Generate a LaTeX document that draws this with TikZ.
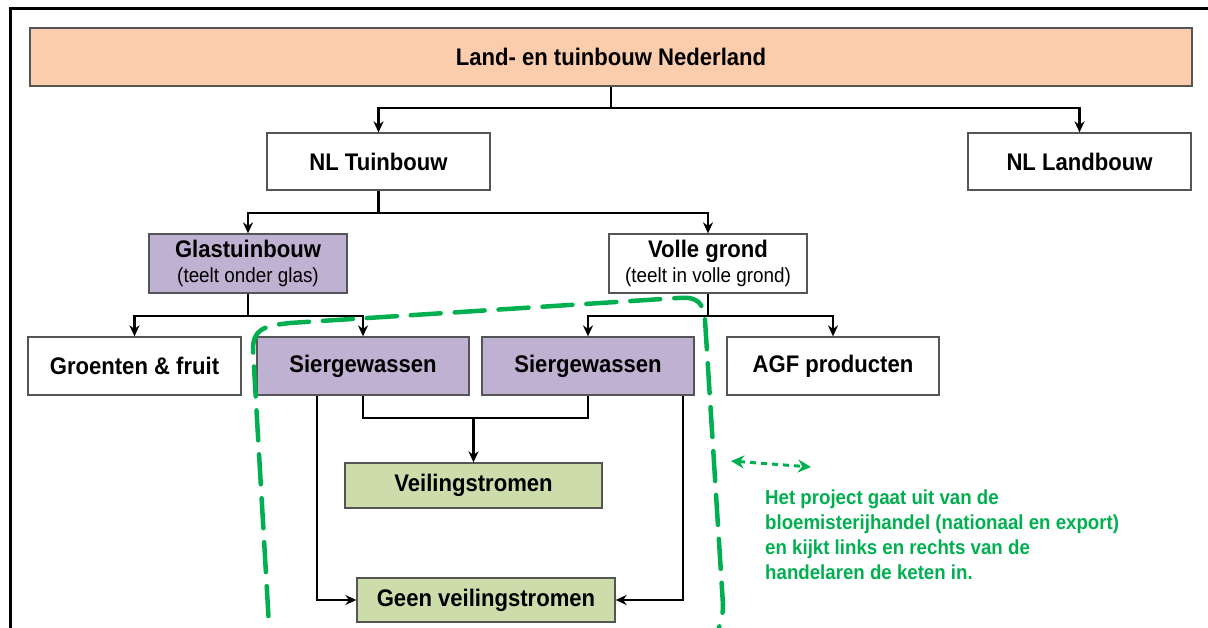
\documentclass[tikz,border=0pt]{standalone}
\usepackage{fontspec}
\setmainfont{Liberation Sans}[FakeStretch=0.92]
\usetikzlibrary{arrows.meta,calc}
\definecolor{peach}{HTML}{FCCDAC}
\definecolor{lilac}{HTML}{BFB1D1}
\definecolor{sage}{HTML}{CCDCAA}
\definecolor{notegreen}{HTML}{00B050}
\definecolor{edge}{HTML}{555555}
\newcommand\subfont{\fontsize{20.5}{24}\selectfont\mdseries}
\begin{document}
\begin{tikzpicture}[x=1pt,y=-1pt,
  box/.style={draw=edge, line width=1.3pt, minimum height=58pt, inner sep=0pt,
    font=\fontsize{24}{25}\selectfont\bfseries, align=center},
  conn/.style={line width=2.2pt, -{Stealth[length=11pt,width=10pt]}},
  link/.style={line width=2.2pt},
  scope/.style={draw=notegreen, line width=4.5pt, dash pattern=on 30pt off 14pt, line cap=round},
  remark/.style={font=\fontsize{20.3}{25}\selectfont\bfseries, text=notegreen, align=left, inner sep=0pt}
]
\useasboundingbox (0,0) rectangle (1208,628);
\clip (0,0) rectangle (1208,628);

% outer frame
\draw[line width=3pt] (10,660) -- (10,9) -- (1230,9);

% boxes
\node[box, fill=peach, minimum width=1162pt] (top) at (611,57) {Land- en tuinbouw Nederland};
\node[box, fill=white, minimum width=223pt, minimum height=57pt] (tuin) at (378.5,161.5) {NL Tuinbouw};
\node[box, fill=white, minimum width=223pt, minimum height=57pt] (land) at (1079.5,161.5) {NL Landbouw};
\node[box, fill=lilac, minimum width=198pt, minimum height=59pt] (glas) at (248,263.5)
  {Glastuinbouw\\{\subfont (teelt onder glas)}};
\node[box, fill=white, minimum width=198pt, minimum height=59pt] (volle) at (708,263.5)
  {Volle grond\\{\subfont (teelt in volle grond)}};
\node[box, fill=white, minimum width=213pt] (groente) at (134.5,366) {Groenten \& fruit};
\node[box, fill=lilac, minimum width=212pt] (sier1) at (363,366) {Siergewassen};
\node[box, fill=lilac, minimum width=212pt] (sier2) at (588,366) {Siergewassen};
\node[box, fill=white, minimum width=212pt] (agf) at (833,366) {AGF producten};
\node[box, fill=sage, minimum width=257pt, minimum height=45pt] (veil) at (473.5,485.5) {Veilingstromen};
\node[box, fill=sage, minimum width=258pt, minimum height=44pt] (geen) at (486,600) {Geen veilingstromen};

% tree connectors
\draw[conn] (top.south) -- ++(0,21) -| (tuin.north);
\draw[conn] (top.south) ++(0,21) -| (land.north);
\draw[conn] (tuin.south) -- ++(0,22) -| (glas.north);
\draw[conn] (tuin.south) ++(0,22) -| (volle.north);
\draw[conn] (glas.south) -- ++(0,22) -| (groente.north);
\draw[conn] (glas.south) ++(0,22) -| (sier1.north);
\draw[conn] (volle.south) -- ++(0,22) -| (sier2.north);
\draw[conn] (volle.south) ++(0,22) -| (agf.north);

% flows out of the ornamental crops
\draw[link] (sier1.south) -- ++(0,22) -| (sier2.south);
\coordinate (join) at ($(sier1.south)!0.5!(sier2.south)+(0,22)$);
\draw[conn] (veil.north |- join) -- (veil.north);
\draw[conn] ($(sier1.south)+(-46,0)$) |- (geen.west);
\draw[conn] ($(sier2.south)+(95,0)$) |- (geen.east);

% project scope outline
\draw[scope] (271,660) -- (253,350) .. controls (253,330) and (262,326) .. (290,323)
  -- (678,298) .. controls (700,296) and (703,305) .. (705,320)
  -- (723,605) .. controls (723,618) and (720,625) .. (708,660);

% remark
\coordinate (la) at (731,461);
\coordinate (ra) at (811,467);
\draw[notegreen, line width=3pt, dash pattern=on 6pt off 5pt,
  {Stealth[length=13pt,width=13pt]}-{Stealth[length=13pt,width=13pt]}] (la) -- (ra);
\node[remark, anchor=north west] (note) at (765,490)
  {Het project gaat uit van de\\bloemisterijhandel (nationaal en export)\\en kijkt links en rechts van de\\handelaren de keten in.};
\end{tikzpicture}
\end{document}
